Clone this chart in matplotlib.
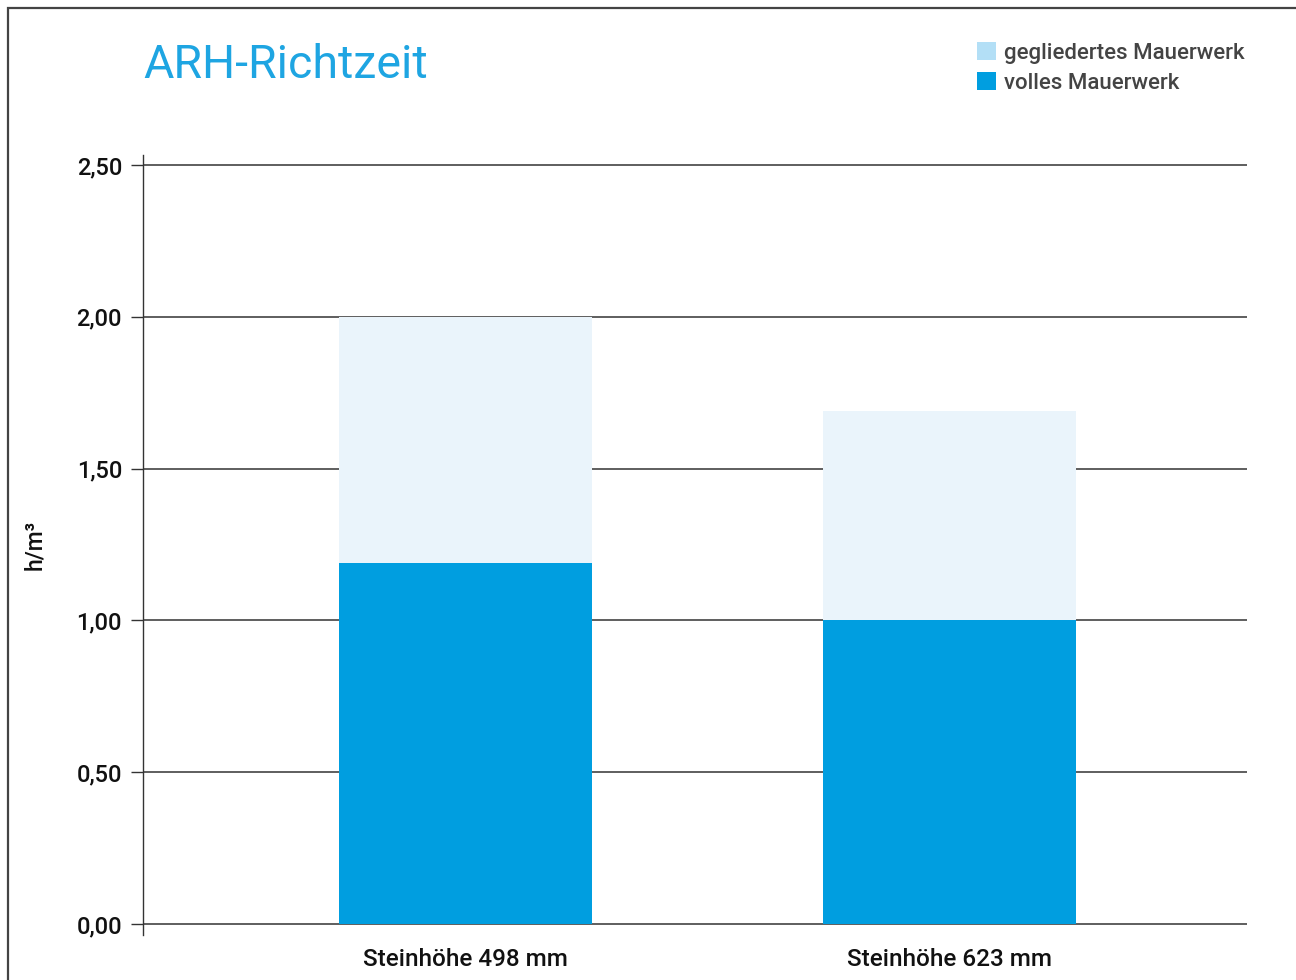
import matplotlib
matplotlib.use("Agg")
import matplotlib.pyplot as plt
from matplotlib.patches import Rectangle, Patch
from matplotlib.ticker import FuncFormatter

# data (h/m3)
categories = ["Steinhöhe 498 mm", "Steinhöhe 623 mm"]
volles = [1.19, 1.00]
gegliedert_total = [2.00, 1.69]
gegliedert = [t - v for t, v in zip(gegliedert_total, volles)]
yticks = [0.0, 0.5, 1.0, 1.5, 2.0, 2.5]

dark_blue = "#009ee0"
light_bar = "#eaf4fb"
light_swatch = "#b3dff6"
grid_col = "#333333"

plt.rcParams["font.family"] = ["Roboto", "Liberation Sans", "DejaVu Sans"]

fig = plt.figure(figsize=(12.96, 9.8), dpi=100)
ax = fig.add_axes([143 / 1296, 1 - 935 / 980, (1247 - 143) / 1296, (935 - 155) / 980])

x = list(range(len(categories)))
ax.bar(x, volles, width=0.523, color=dark_blue, zorder=3)
ax.bar(x, gegliedert, bottom=volles, width=0.523, color=light_bar, zorder=3)

ax.set_xlim(-0.666, 1.615)
ax.set_ylim(-0.036, 2.533)
ax.set_yticks(yticks)
ax.yaxis.set_major_formatter(FuncFormatter(lambda v, p: f"{v:.2f}".replace(".", ",")))
ax.set_xticks(x)
ax.set_xticklabels(categories)
ax.tick_params(axis="y", length=8.6, width=1, color=grid_col, pad=6.5,
               labelsize=17, labelcolor="#111111")
ax.tick_params(axis="x", length=0, pad=9, labelsize=17.5, labelcolor="#111111")
for lab in ax.get_xticklabels() + ax.get_yticklabels():
    lab.set_fontweight("medium")

for t in yticks:
    ax.axhline(t, color=grid_col, lw=1.1, zorder=1)

for s in ["top", "right", "bottom"]:
    ax.spines[s].set_visible(False)
ax.spines["left"].set_color(grid_col)
ax.spines["left"].set_linewidth(1)

ax.set_ylabel("h/m³", fontsize=16.5, fontweight="medium", color="#111111", labelpad=22)

# title
fig.text(143 / 1296, 1 - 78 / 980, "ARH-Richtzeit", fontsize=33.5, fontweight="normal",
         color="#1ea5e2", ha="left", va="baseline")

# legend
handles = [Patch(facecolor=light_swatch, edgecolor="none"),
           Patch(facecolor=dark_blue, edgecolor="none")]
leg = fig.legend(handles, ["gegliedertes Mauerwerk", "volles Mauerwerk"],
                 loc="upper left", bbox_to_anchor=(977 / 1296, 1 - 42.5 / 980),
                 frameon=False, fontsize=16, handlelength=0.86, handleheight=0.86,
                 handletextpad=0.36, labelspacing=0.35, borderpad=0, borderaxespad=0)
for txt in leg.get_texts():
    txt.set_color("#444444")
    txt.set_fontweight("medium")

# outer frame
fig.add_artist(Rectangle((8 / 1296, -0.1), 1.2, 1 - 8 / 980 + 0.1, transform=fig.transFigure,
                         fill=False, edgecolor="#444444", lw=1.6))

fig.savefig("out.png", dpi=100)
